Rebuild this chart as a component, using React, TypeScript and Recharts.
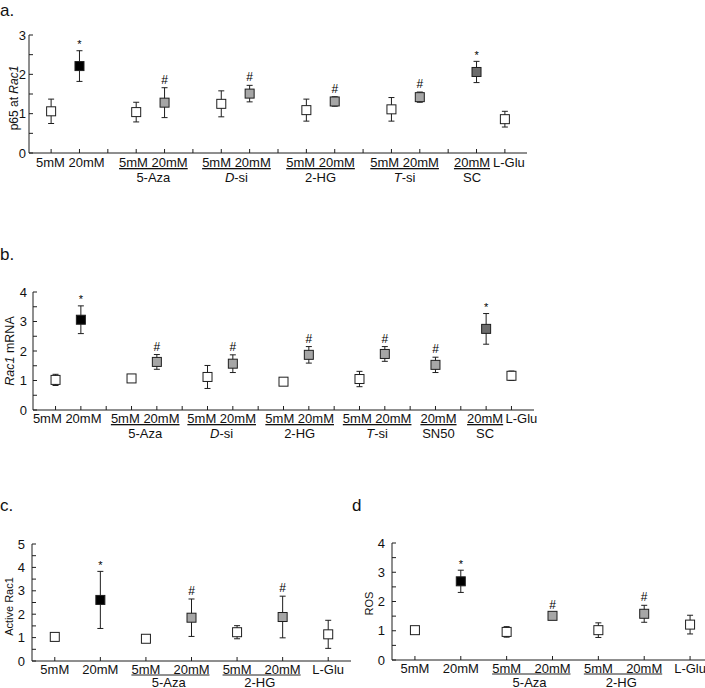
import React from "react";
import { ScatterChart, Scatter, XAxis, YAxis, ErrorBar } from "recharts";

const FONT = "'Liberation Sans', Arial, sans-serif";
const FILLS: Record<string, string> = { w: "#ffffff", k: "#000000", g: "#a6a6a6", d: "#6c6c6c" };
const INK = "#1e1e1e";

// a. p65 at Rac1
const aX = [0, 1, 3, 4, 6, 7, 9, 10, 12, 13, 15, 16];
const aMean = [1.06, 2.21, 1.04, 1.28, 1.25, 1.51, 1.09, 1.31, 1.11, 1.42, 2.06, 0.86];
const aErr = [0.31, 0.39, 0.25, 0.38, 0.33, 0.21, 0.28, 0.12, 0.3, 0.13, 0.27, 0.2];
const aFill = ["w", "k", "w", "g", "w", "g", "w", "g", "w", "g", "d", "w"];
const aMark = ["", "*", "", "#", "", "#", "", "#", "", "#", "*", ""];
const aGroupX = [0.5, 3.5, 6.5, 9.5, 12.5, 15, 16];
const aGroupTop = ["5mM 20mM", "5mM 20mM", "5mM 20mM", "5mM 20mM", "5mM 20mM", "20mM", "L-Glu"];
const aGroupSub = [["", ""], ["", "5-Aza"], ["D", "-si"], ["", "2-HG"], ["T", "-si"], ["", "SC"], ["", ""]];
const aGroupShift = [5, 3, 1, 0, -1, -4.5, 4];

// b. Rac1 mRNA
const bX = [0, 1, 3, 4, 6, 7, 9, 10, 12, 13, 15, 17, 18];
const bMean = [1.02, 3.06, 1.07, 1.63, 1.12, 1.57, 0.96, 1.87, 1.05, 1.9, 1.53, 2.75, 1.16];
const bErr = [0.19, 0.47, 0.08, 0.25, 0.39, 0.3, 0.05, 0.28, 0.26, 0.25, 0.26, 0.52, 0.16];
const bFill = ["w", "k", "w", "g", "w", "g", "w", "g", "w", "g", "g", "d", "w"];
const bMark = ["", "*", "", "#", "", "#", "", "#", "", "#", "#", "*", ""];
const bGroupX = [0.5, 3.5, 6.5, 9.5, 12.5, 15, 17, 18];
const bGroupTop = ["5mM 20mM", "5mM 20mM", "5mM 20mM", "5mM 20mM", "5mM 20mM", "20mM", "20mM", "L-Glu"];
const bGroupSub = [["", ""], ["", "5-Aza"], ["D", "-si"], ["", "2-HG"], ["T", "-si"], ["", "SN50"], ["", "SC"], ["", ""]];
const bGroupShift = [-1, 1, 1.5, 3.5, 5, 3, -1, 10];

// c. Active Rac1 / d. ROS share the categories
const cdX = [0, 1, 2, 3, 4, 5, 6];
const cdTop = ["5mM", "20mM", "5mM", "20mM", "5mM", "20mM", "L-Glu"];
const cdGroupX = [2.5, 4.5];
const cdGroupSub = [["", "5-Aza"], ["", "2-HG"]];
const cdFill = ["w", "k", "w", "g", "w", "g", "w"];
const cdMark = ["", "*", "", "#", "", "#", ""];

const cMean = [1.03, 2.61, 0.95, 1.85, 1.23, 1.88, 1.14];
const cErr = [0.12, 1.22, 0.05, 0.8, 0.28, 0.89, 0.6];

const dMean = [1.02, 2.69, 0.96, 1.51, 1.02, 1.58, 1.21];
const dErr = [0.08, 0.38, 0.18, 0.08, 0.25, 0.29, 0.32];

function buildPts(xs: number[], means: number[], errs: number[], fills: string[]) {
  return xs.map((x, i) => ({ x, y: means[i], err: errs[i], fill: FILLS[fills[i]] }));
}

function buildMarks(xs: number[], means: number[], errs: number[], marks: string[]) {
  return xs
    .map((x, i) => ({ x, y: means[i] + errs[i], mark: marks[i] }))
    .filter((m) => m.mark !== "");
}

const Square = (p: any) => (
  <rect x={p.cx - 4.5} y={p.cy - 4.5} width={9} height={9} fill={p.payload.fill} stroke={INK} strokeWidth={1} />
);

const MarkText = (p: any) => (
  <text
    x={p.cx}
    y={p.payload.mark === "*" ? p.cy - 2.5 : p.cy - 4}
    textAnchor="middle"
    fontSize={p.payload.mark === "*" ? 11 : 12}
    fontFamily={FONT}
    fill="#000"
  >
    {p.payload.mark}
  </text>
);

function Sub({ parts }: { parts: string[] }) {
  return (
    <>
      {parts[0] ? <tspan fontStyle="italic">{parts[0]}</tspan> : null}
      {parts[1]}
    </>
  );
}

type PanelProps = {
  left: number;
  top: number;
  width: number;
  height: number;
  mTop: number;
  mRight: number;
  yWidth: number;
  xHeight: number;
  xDomain: [number, number];
  yMax: number;
  pts: any[];
  marks: any[];
  tick: (p: any) => React.ReactElement;
  ticks: number[];
  yLabel: React.ReactNode;
  labelX: number;
  labelDy: number;
  tickGap: number;
  yLabelSize: number;
};

function Panel(props: PanelProps) {
  const { left, top, width, height, mTop, mRight, yWidth, xHeight, xDomain, yMax } = props;
  const yTicks: number[] = [];
  for (let v = 0; v <= yMax + 1e-9; v += 0.5) yTicks.push(v);
  const plotH = height - mTop - xHeight;
  const yTick = (p: any) => {
    const v = p.payload.value;
    return (
      <g>
        <line x1={p.x} y1={p.y} x2={p.x + 4} y2={p.y} stroke={INK} strokeWidth={1} />
        {Number.isInteger(v) ? (
          <text x={p.x - props.tickGap} y={p.y} dy="0.36em" textAnchor="end" fontSize={13} fontFamily={FONT} fill="#111">
            {v}
          </text>
        ) : null}
      </g>
    );
  };
  const cy = mTop + plotH / 2 + props.labelDy;
  return (
    <div style={{ position: "absolute", left, top }}>
      <ScatterChart width={width} height={height} margin={{ top: mTop, right: mRight, bottom: 0, left: 0 }}>
        <XAxis
          type="number"
          dataKey="x"
          domain={xDomain}
          ticks={props.ticks}
          interval={0}
          height={xHeight}
          tickSize={0}
          tickMargin={0}
          tickLine={false}
          axisLine={{ stroke: INK, strokeWidth: 1 }}
          tick={props.tick}
        />
        <YAxis
          type="number"
          dataKey="y"
          domain={[0, yMax]}
          ticks={yTicks}
          interval={0}
          width={yWidth}
          tickSize={0}
          tickMargin={0}
          tickLine={false}
          axisLine={{ stroke: INK, strokeWidth: 1 }}
          tick={yTick}
          label={{
            content: () => (
              <text
                x={props.labelX}
                y={cy}
                transform={`rotate(-90, ${props.labelX}, ${cy})`}
                textAnchor="middle"
                dominantBaseline="central"
                fontSize={props.yLabelSize}
                fontFamily={FONT}
                fill="#111"
              >
                {props.yLabel}
              </text>
            ),
          }}
        />
        <Scatter data={props.pts} shape={Square} isAnimationActive={false}>
          <ErrorBar dataKey="err" direction="y" width={3} stroke={INK} strokeWidth={1} />
        </Scatter>
        <Scatter data={props.marks} shape={MarkText} isAnimationActive={false} />
      </ScatterChart>
    </div>
  );
}

function pairTick(
  groupX: number[],
  groupTop: string[],
  groupSub: string[][],
  shift: number[],
  topDy: number,
  subDy: number
) {
  return (p: any) => {
    const v = p.payload.value;
    const gi = groupX.indexOf(v);
    const tx = gi >= 0 ? p.x + shift[gi] : p.x;
    return (
      <g>
        {Number.isInteger(v) ? <line x1={p.x} y1={p.y} x2={p.x} y2={p.y - 4} stroke={INK} strokeWidth={1} /> : null}
        {gi >= 0 ? (
          <text
            x={tx}
            y={p.y + topDy}
            textAnchor="middle"
            fontSize={13}
            fontFamily={FONT}
            fill="#111"
            textDecoration={groupSub[gi][1] ? "underline" : undefined}
          >
            {groupTop[gi]}
          </text>
        ) : null}
        {gi >= 0 && groupSub[gi][1] ? (
          <text x={tx} y={p.y + subDy} textAnchor="middle" fontSize={13} fontFamily={FONT} fill="#111">
            <Sub parts={groupSub[gi]} />
          </text>
        ) : null}
      </g>
    );
  };
}

function singleTick(spacing: number, topDy: number, subDy: number) {
  return (p: any) => {
    const v = p.payload.value;
    const gi = cdGroupX.indexOf(v);
    return (
      <g>
        {Number.isInteger(v) ? (
          <>
            <line x1={p.x} y1={p.y} x2={p.x} y2={p.y - 4} stroke={INK} strokeWidth={1} />
            <text x={p.x} y={p.y + topDy} textAnchor="middle" fontSize={13} fontFamily={FONT} fill="#111">
              {cdTop[v]}
            </text>
          </>
        ) : null}
        {gi >= 0 ? (
          <>
            <line
              x1={p.x - spacing / 2 - 14.5}
              x2={p.x + spacing / 2 + 18}
              y1={p.y + topDy + 1.5}
              y2={p.y + topDy + 1.5}
              stroke="#222"
              strokeWidth={1}
            />
            <text x={p.x} y={p.y + subDy} textAnchor="middle" fontSize={13} fontFamily={FONT} fill="#111">
              <Sub parts={cdGroupSub[gi]} />
            </text>
          </>
        ) : null}
      </g>
    );
  };
}

function intTicks(n: number, extra: number[]) {
  const s = new Set<number>();
  for (let i = 0; i < n; i++) s.add(i);
  extra.forEach((e) => s.add(e));
  return Array.from(s).sort((p, q) => p - q);
}

const letter = (txt: string, left: number, top: number) => (
  <div
    style={{
      position: "absolute",
      left,
      top,
      fontFamily: FONT,
      fontSize: 17,
      lineHeight: "17px",
      color: "#111",
    }}
  >
    {txt}
  </div>
);

export default function App() {
  return (
    <div
      style={{
        position: "absolute",
        left: 0,
        top: 0,
        width: 705,
        height: 688,
        overflow: "hidden",
        background: "#fff",
      }}
    >
      {letter("a.", 0, 2)}
      {letter("b.", 0, 246)}
      {letter("c.", 0, 497)}
      {letter("d", 352, 497)}

      <Panel
        left={0}
        top={0}
        width={540}
        height={200}
        mTop={35}
        mRight={13}
        yWidth={29}
        xHeight={47}
        xDomain={[-0.78, 16.78]}
        yMax={3}
        pts={buildPts(aX, aMean, aErr, aFill)}
        marks={buildMarks(aX, aMean, aErr, aMark)}
        ticks={intTicks(17, aGroupX)}
        tick={pairTick(aGroupX, aGroupTop, aGroupSub, aGroupShift, 14, 29)}
        yLabel={
          <>
            p65 at <tspan fontStyle="italic">Rac1</tspan>
          </>
        }
        labelX={14}
        labelDy={4}
        tickGap={3}
        yLabelSize={12}
      />

      <Panel
        left={0}
        top={230}
        width={548}
        height={230}
        mTop={62}
        mRight={14}
        yWidth={33}
        xHeight={50}
        xDomain={[-0.89, 18.89]}
        yMax={4}
        pts={buildPts(bX, bMean, bErr, bFill)}
        marks={buildMarks(bX, bMean, bErr, bMark)}
        ticks={intTicks(19, bGroupX)}
        tick={pairTick(bGroupX, bGroupTop, bGroupSub, bGroupShift, 13, 28)}
        yLabel={
          <>
            <tspan fontStyle="italic">Rac1</tspan> mRNA
          </>
        }
        labelX={10}
        labelDy={0}
        tickGap={6}
        yLabelSize={12.5}
      />

      <Panel
        left={0}
        top={480}
        width={360}
        height={208}
        mTop={64}
        mRight={9}
        yWidth={32}
        xHeight={27}
        xDomain={[-0.5, 6.5]}
        yMax={5}
        pts={buildPts(cdX, cMean, cErr, cdFill)}
        marks={buildMarks(cdX, cMean, cErr, cdMark)}
        ticks={intTicks(7, cdGroupX)}
        tick={singleTick(319 / 7, 12.5, 25.5)}
        yLabel="Active Rac1"
        labelX={9}
        labelDy={4}
        tickGap={7}
        yLabelSize={11}
      />

      <Panel
        left={360}
        top={480}
        width={360}
        height={208}
        mTop={63}
        mRight={7}
        yWidth={32}
        xHeight={28}
        xDomain={[-0.5, 6.5]}
        yMax={4}
        pts={buildPts(cdX, dMean, dErr, cdFill)}
        marks={buildMarks(cdX, dMean, dErr, cdMark)}
        ticks={intTicks(7, cdGroupX)}
        tick={singleTick(321 / 7, 12.5, 26.5)}
        yLabel="ROS"
        labelX={9}
        labelDy={2}
        tickGap={7}
        yLabelSize={11}
      />
    </div>
  );
}
